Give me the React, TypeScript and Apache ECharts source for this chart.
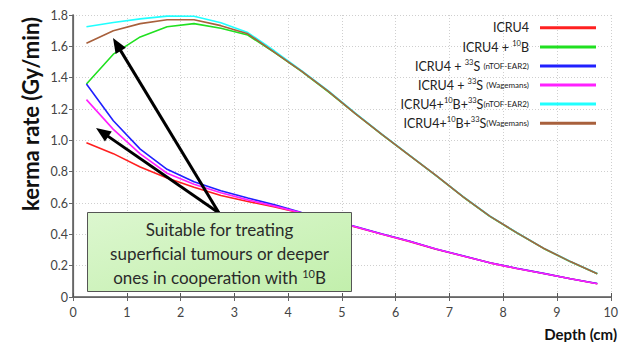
import React, { useEffect, useRef } from "react";
import * as echarts from "echarts";

const depths = [0.25, 0.75, 1.25, 1.75, 2.25, 2.75, 3.25, 3.75, 4.25, 4.75, 5.25, 5.75, 6.25, 6.75, 7.25, 7.75, 8.25, 8.75, 9.25, 9.75];

const icru4 = [0.985, 0.915, 0.83, 0.76, 0.70, 0.648, 0.61, 0.575, 0.535, 0.49, 0.447, 0.40, 0.355, 0.305, 0.262, 0.218, 0.182, 0.15, 0.116, 0.085];
const icru4B = [1.36, 1.55, 1.66, 1.725, 1.745, 1.715, 1.672, 1.56, 1.44, 1.31, 1.17, 1.035, 0.905, 0.775, 0.64, 0.515, 0.41, 0.31, 0.225, 0.148];
const icru4S_ntof = [1.36, 1.125, 0.944, 0.815, 0.735, 0.678, 0.632, 0.588, 0.54, 0.493, 0.45, 0.402, 0.357, 0.307, 0.263, 0.219, 0.183, 0.151, 0.117, 0.086];
const icru4S_wag = [1.26, 1.07, 0.913, 0.79, 0.72, 0.665, 0.62, 0.58, 0.537, 0.491, 0.448, 0.401, 0.356, 0.306, 0.262, 0.218, 0.182, 0.15, 0.116, 0.085];
const icru4BS_ntof = [1.725, 1.752, 1.775, 1.793, 1.792, 1.75, 1.688, 1.57, 1.445, 1.315, 1.173, 1.038, 0.907, 0.777, 0.642, 0.517, 0.412, 0.312, 0.227, 0.15];
const icru4BS_wag = [1.62, 1.70, 1.745, 1.77, 1.77, 1.732, 1.68, 1.562, 1.442, 1.312, 1.171, 1.036, 0.906, 0.776, 0.641, 0.516, 0.411, 0.311, 0.226, 0.149];

const seriesNames = [
  "ICRU4",
  "ICRU4 + 10B",
  "ICRU4 + 33S (nTOF-EAR2)",
  "ICRU4 + 33S (Wagemans)",
  "ICRU4+10B+33S(nTOF-EAR2)",
  "ICRU4+10B+33S(Wagemans)",
];
const legendRich = [
  "ICRU4",
  "ICRU4 + {sup|10}B",
  "ICRU4 + {sup|33}S {sm|(nTOF-EAR2)}",
  "ICRU4 + {sup|33}S {sm|(Wagemans)}",
  "ICRU4+{sup|10}B+{sup|33}S{sm|(nTOF-EAR2)}",
  "ICRU4+{sup|10}B+{sup|33}S{sm|(Wagemans)}",
];
const seriesValues = [icru4, icru4B, icru4S_ntof, icru4S_wag, icru4BS_ntof, icru4BS_wag];
const colors = ["#ff2020", "#20e020", "#2020ff", "#ff20ff", "#20ffff", "#a8603c"];

const xTicks = [0, 10, 1];
const yTicks = [0, 1.8, 0.2];

const FONT = "Lato, 'Open Sans', sans-serif";

function arrow(x1: number, y1: number, x2: number, y2: number) {
  const dx = x2 - x1;
  const dy = y2 - y1;
  const len = Math.sqrt(dx * dx + dy * dy);
  const ux = dx / len;
  const uy = dy / len;
  const hl = 15;
  const hw = 6;
  const bx = x2 - ux * hl;
  const by = y2 - uy * hl;
  return [
    { type: "line", shape: { x1, y1, x2: bx + ux * 2, y2: by + uy * 2 }, style: { stroke: "#000", lineWidth: 3 }, z: 100 },
    {
      type: "polygon",
      shape: { points: [[x2, y2], [bx - uy * hw, by + ux * hw], [bx + uy * hw, by - ux * hw]] },
      style: { fill: "#000" },
      z: 100,
    },
  ];
}

export default function App() {
  const ref = useRef<HTMLDivElement>(null);
  useEffect(() => {
    if (!ref.current) return;
    const chart = echarts.init(ref.current, undefined, { renderer: "svg" });
    const series = seriesNames.map((name, i) => ({
      name,
      type: "line",
      data: depths.map((d, j) => [d, seriesValues[i][j]]),
      showSymbol: false,
      symbol: "none",
      lineStyle: { color: colors[i], width: 1.6 },
      itemStyle: { color: colors[i] },
      z: 2 + i,
    }));

    const legendItems: any[] = [];
    const legendY = [27.7, 47, 66, 85, 104, 123.3];
    legendRich.forEach((t, i) => {
      legendItems.push({
        type: "text",
        x: 529,
        y: legendY[i],
        style: {
          text: t,
          textAlign: "right",
          textVerticalAlign: "middle",
          fontFamily: FONT,
          fontSize: 12.5,
          fill: "#222",
          rich: {
            sup: { fontSize: 7.5, fontFamily: FONT, fill: "#222", padding: [0, 0, 7, 0] },
            sm: { fontSize: 8, fontFamily: FONT, fill: "#222" },
          },
        },
        z: 50,
      });
      legendItems.push({
        type: "line",
        shape: { x1: 540, y1: legendY[i], x2: 596, y2: legendY[i] },
        style: { stroke: colors[i], lineWidth: 3 },
        z: 50,
      });
    });

    const option: any = {
      animation: false,
      backgroundColor: "#fff",
      grid: { left: 73, right: 10, top: 15, bottom: 45, containLabel: false },
      xAxis: [
        {
          type: "value",
          min: xTicks[0],
          max: xTicks[1],
          interval: xTicks[2],
          axisLine: { show: true, lineStyle: { color: "#555", width: 1.5 } },
          axisTick: { show: true, inside: true, length: 4, lineStyle: { color: "#555" } },
          axisLabel: { color: "#444", fontSize: 12.5, fontFamily: FONT, margin: 9 },
          splitLine: { show: true, lineStyle: { color: "#cfcfcf", type: [1, 2], width: 1 } },
        },
        {
          type: "value",
          position: "top",
          min: xTicks[0],
          max: xTicks[1],
          interval: xTicks[2],
          axisLine: { show: true, lineStyle: { color: "#666", width: 1.2 } },
          axisTick: { show: true, inside: true, length: 4, lineStyle: { color: "#666" } },
          axisLabel: { show: false },
          splitLine: { show: false },
        },
      ],
      yAxis: [
        {
          type: "value",
          min: yTicks[0],
          max: yTicks[1],
          interval: yTicks[2],
          axisLine: { show: true, lineStyle: { color: "#555", width: 1.5 } },
          axisTick: { show: true, inside: false, length: 3, lineStyle: { color: "#555" } },
          axisLabel: {
            color: "#444",
            fontSize: 12.5,
            fontFamily: FONT,
            margin: 5,
            formatter: (v: number) => (v === 0 ? "0" : v.toFixed(1)),
          },
          splitLine: { show: true, lineStyle: { color: "#cfcfcf", type: [1, 2], width: 1 } },
        },
        {
          type: "value",
          position: "right",
          min: yTicks[0],
          max: yTicks[1],
          interval: yTicks[2],
          axisLine: { show: true, lineStyle: { color: "#666", width: 1.2 } },
          axisTick: { show: true, inside: true, length: 4, lineStyle: { color: "#666" } },
          axisLabel: { show: false },
          splitLine: { show: false },
        },
      ],
      series,
      graphic: [
        {
          type: "text",
          x: 30,
          y: 114,
          rotation: Math.PI / 2,
          style: {
            text: "kerma rate (Gy/min)",
            textAlign: "center",
            textVerticalAlign: "middle",
            fontFamily: FONT,
            fontWeight: "bold",
            fontSize: 22,
            fill: "#111",
          },
        },
        {
          type: "text",
          x: 617,
          y: 334,
          style: {
            text: "Depth (cm)",
            textAlign: "right",
            textVerticalAlign: "middle",
            fontFamily: FONT,
            fontWeight: "bold",
            fontSize: 15,
            fill: "#111",
          },
        },
        ...legendItems,
        ...arrow(219, 213, 113, 38),
        ...arrow(219, 213, 96, 128),
        {
          type: "rect",
          shape: { x: 87.5, y: 212.5, width: 264, height: 79 },
          style: {
            fill: new echarts.graphic.LinearGradient(0, 0, 1, 1, [
              { offset: 0, color: "#dcf7cf" },
              { offset: 1, color: "#c2efac" },
            ]),
            stroke: "#555",
            lineWidth: 1,
          },
          z: 110,
        },
        {
          type: "text",
          x: 219.5,
          y: 229,
          style: { text: "Suitable for treating", textAlign: "center", textVerticalAlign: "middle", fontFamily: FONT, fontSize: 17, fill: "#2a2a2a" },
          z: 111,
        },
        {
          type: "text",
          x: 219.5,
          y: 253,
          style: { text: "superficial tumours or deeper", textAlign: "center", textVerticalAlign: "middle", fontFamily: FONT, fontSize: 17, fill: "#2a2a2a" },
          z: 111,
        },
        {
          type: "text",
          x: 219.5,
          y: 277,
          style: {
            text: "ones in cooperation with {sup|10}B",
            textAlign: "center",
            textVerticalAlign: "middle",
            fontFamily: FONT,
            fontSize: 17,
            fill: "#2a2a2a",
            rich: { sup: { fontSize: 11, fontFamily: FONT, fill: "#2a2a2a", padding: [0, 0, 8, 0] } },
          },
          z: 111,
        },
      ],
    };
    chart.setOption(option);
    return () => chart.dispose();
  }, []);
  return <div ref={ref} style={{ width: 621, height: 342, position: "absolute", left: 0, top: 0 }} />;
}
